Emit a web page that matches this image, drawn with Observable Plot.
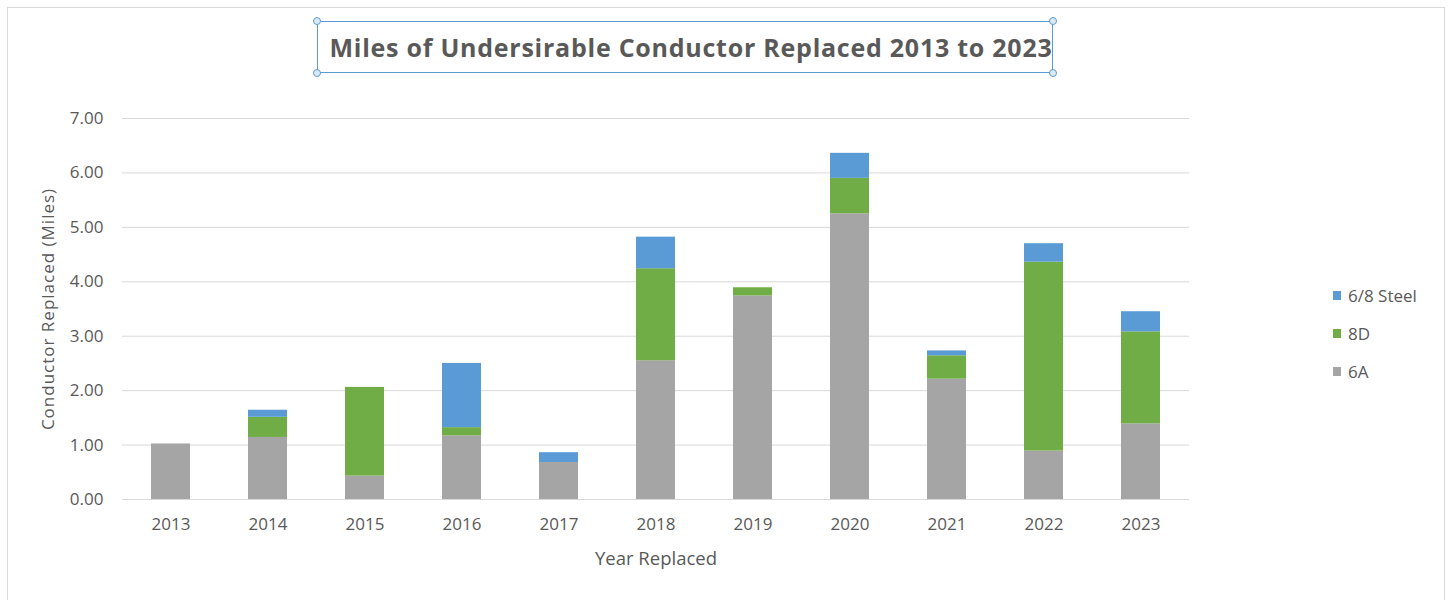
<!DOCTYPE html>
<html>
<head>
<meta charset="utf-8">
<script src="https://cdn.jsdelivr.net/npm/d3@7"></script>
<script src="https://cdn.jsdelivr.net/npm/@observablehq/plot@0.6"></script>
<style>
  html, body { margin: 0; padding: 0; background: #fff; }
  #wrap { position: relative; width: 1449px; height: 600px; overflow: hidden; font-family: "Open Sans", "Noto Sans", sans-serif; }
  #frame { position: absolute; left: 7px; top: 7px; width: 1438px; height: 620px; border: 1px solid #d9d9d9; box-sizing: border-box; }
  #chart { position: absolute; left: 0; top: 0; }
  #titlebox { position: absolute; left: 317px; top: 21px; width: 736px; height: 52px; border: 1.5px solid #5b9bd5; box-sizing: border-box; }
  #title { position: absolute; left: 323px; top: 21px; width: 736px; height: 52px; display: flex; align-items: center; justify-content: center; }
  #title span { font-size: 25px; font-weight: 700; letter-spacing: 0.75px; color: #595959; white-space: nowrap; }
  .handle { position: absolute; width: 8px; height: 8px; border-radius: 50%; border: 1.2px solid #5b9bd5; background: #dbe9f7; box-sizing: border-box; }
  #legend { position: absolute; left: 1333px; top: 0; font-size: 17px; color: #595959; }
  .li { position: absolute; left: 0; white-space: nowrap; display: flex; align-items: center; height: 20px; }
  .sw { width: 8px; height: 9px; margin-right: 7px; }
  #chart svg g[aria-label="y-axis label"] text { font-size: 17px; letter-spacing: 1px; }
  #chart svg g[aria-label="x-axis label"] text { font-size: 18.5px; }
</style>
</head>
<body>
<div id="wrap">
  <div id="frame"></div>
  <div id="chart"></div>
  <div id="titlebox"></div>
  <div id="title"><span>Miles of Undersirable Conductor Replaced 2013 to 2023</span></div>
  <div id="legend"></div>
</div>
<script>
const years = ["2013","2014","2015","2016","2017","2018","2019","2020","2021","2022","2023"];
const series = ["6A", "8D", "6/8 Steel"];
const colors = ["#a5a5a5", "#70ad47", "#5b9bd5"];
const values6A    = [1.02, 1.14, 0.43, 1.17, 0.68, 2.55, 3.74, 5.25, 2.21, 0.89, 1.39];
const values8D    = [0.00, 0.37, 1.63, 0.15, 0.00, 1.69, 0.15, 0.65, 0.43, 3.47, 1.69];
const valuesSteel = [0.00, 0.13, 0.00, 1.18, 0.18, 0.58, 0.00, 0.46, 0.09, 0.34, 0.37];
const yTicks = [0, 1, 2, 3, 4, 5, 6, 7];

const rows = [];
const allVals = [values6A, values8D, valuesSteel];
series.forEach((s, si) => {
  years.forEach((yr, i) => rows.push({year: yr, series: s, value: allVals[si][i]}));
});

const chart = Plot.plot({
  width: 1449,
  height: 600,
  marginLeft: 122,
  marginRight: 260,
  marginTop: 118,
  marginBottom: 101,
  style: {fontFamily: '"Open Sans", "Noto Sans", sans-serif', fontSize: "17px", color: "#595959", background: "transparent"},
  x: {domain: years, paddingInner: 0.6, paddingOuter: 0.3},
  y: {domain: [0, 7]},
  color: {domain: series, range: colors},
  marks: [
    Plot.gridY(yTicks, {stroke: "#d9d9d9", strokeOpacity: 1, strokeWidth: 1}),
    Plot.barY(rows, {x: "year", y: "value", fill: "series", order: series}),
    Plot.axisY(yTicks, {tickSize: 0, tickPadding: 19, tickFormat: d3.format(".2f"), fontSize: 17,
      label: "Conductor Replaced (Miles)", labelAnchor: "center", labelArrow: "none", labelOffset: 81}),
    Plot.axisX({tickSize: 0, tickPadding: 18, fontSize: 17,
      label: "Year Replaced", labelAnchor: "center", labelArrow: "none", labelOffset: 65})
  ]
});
document.getElementById("chart").appendChild(chart);

// title box handles
const tb = {l: 317, t: 21, r: 1053, b: 73};
[[tb.l, tb.t], [tb.r, tb.t], [tb.l, tb.b], [tb.r, tb.b]].forEach(([x, y]) => {
  const h = document.createElement("div");
  h.className = "handle";
  h.style.left = (x - 4) + "px";
  h.style.top = (y - 4) + "px";
  document.getElementById("wrap").appendChild(h);
});

// legend (top series first, as in reference)
const legend = document.getElementById("legend");
const legendOrder = [2, 1, 0];
legendOrder.forEach((si, k) => {
  const item = document.createElement("div");
  item.className = "li";
  item.style.top = (285 + k * 38) + "px";
  item.innerHTML = `<div class="sw" style="background:${colors[si]}"></div><span>${series[si]}</span>`;
  legend.appendChild(item);
});
</script>
</body>
</html>
